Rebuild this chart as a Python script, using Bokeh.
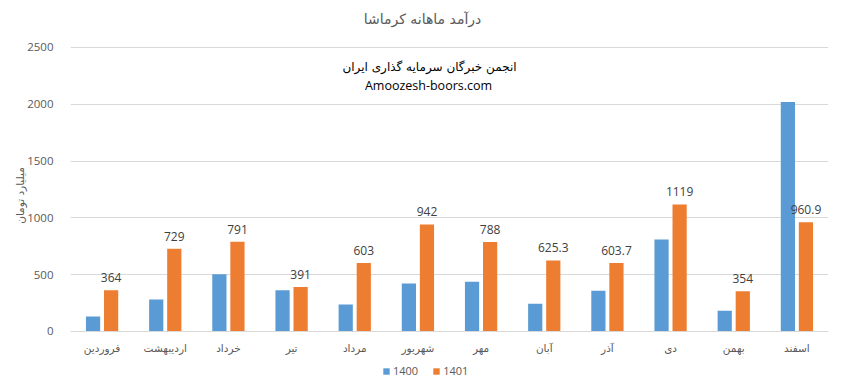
import math
from bokeh.plotting import figure
from bokeh.models import FactorRange, Label, Legend, LegendItem, ColumnDataSource
from bokeh.transform import dodge
from bokeh.core.properties import value
from bokeh.embed import file_html
from bokeh.resources import INLINE

months = ["فروردین", "اردیبهشت", "خرداد", "تیر", "مرداد", "شهریور",
          "مهر", "آبان", "آذر", "دی", "بهمن", "اسفند"]
sales_1400 = [132, 282, 503, 362, 238, 423, 438, 244, 359, 809, 183, 2020]
sales_1401 = [364, 729, 791, 391, 603, 942, 788, 625.3, 603.7, 1119, 354, 960.9]
labels_1401 = ["364", "729", "791", "391", "603", "942", "788", "625.3", "603.7", "1119", "354", "960.9"]
y_ticks = [0, 500, 1000, 1500, 2000, 2500]

src = ColumnDataSource(dict(m=months, a=sales_1400, b=sales_1401, lb=labels_1401))

W, H = 840, 390
p = figure(x_range=FactorRange(*months), y_range=(-484.2, 2878.5), width=W, height=H,
           output_backend="svg", toolbar_location=None,
           min_border_left=70, min_border_right=12, min_border_top=4, min_border_bottom=4)
p.outline_line_color = None
p.background_fill_color = "white"

blue = "#5B9BD5"
orange = "#ED7D31"
r1 = p.vbar(x=dodge("m", -0.143, range=p.x_range), top="a", width=0.225, source=src,
            fill_color=blue, line_color=None)
r2 = p.vbar(x=dodge("m", 0.143, range=p.x_range), top="b", width=0.225, source=src,
            fill_color=orange, line_color=None)
p.text(x=dodge("m", 0.143, range=p.x_range), y="b", text="lb", source=src,
       text_align="center", text_baseline="bottom", y_offset=-8,
       text_font=value("Open Sans"), text_font_size="12px", text_color="#404040")

p.xgrid.grid_line_color = None
p.ygrid.grid_line_color = "#d9d9d9"
p.yaxis.ticker = y_ticks
p.yaxis.axis_line_color = None
p.yaxis.major_tick_line_color = None
p.yaxis.minor_tick_line_color = None
p.yaxis.major_label_text_font = "Open Sans"
p.yaxis.major_label_text_font_size = "11.5px"
p.yaxis.major_label_text_color = "#595959"
p.yaxis.major_label_standoff = 11
p.yaxis.axis_label = "میلیارد تومان"
p.yaxis.axis_label_text_font = "DejaVu Sans"
p.yaxis.axis_label_text_font_size = "10.5px"
p.yaxis.axis_label_text_font_style = "normal"
p.yaxis.axis_label_text_color = "#595959"
p.yaxis.axis_label_standoff = -2
p.xaxis.fixed_location = 0
p.xaxis.axis_line_color = "#d9d9d9"
p.xaxis.major_tick_line_color = None
p.xaxis.minor_tick_line_color = None
p.xaxis.major_label_text_font = "DejaVu Sans"
p.xaxis.major_label_text_font_size = "10.5px"
p.xaxis.major_label_text_color = "#595959"
p.xaxis.major_label_standoff = 5
p.x_range.range_padding = 0.0
p.x_range.group_padding = 0.0

legend = Legend(items=[LegendItem(label="1400", renderers=[r1]),
                       LegendItem(label="1401", renderers=[r2])],
                orientation="horizontal", location=(312, 8),
                label_text_font="Open Sans", label_text_font_size="11px",
                label_text_color="#595959", glyph_width=8, glyph_height=8,
                label_standoff=3, spacing=14, padding=0, margin=0,
                border_line_color=None, background_fill_alpha=0)
p.add_layout(legend, "center")

p.add_layout(Label(x=352, y=368, x_units="screen", y_units="screen",
                   text="درآمد ماهانه کرماشا", text_align="center", text_baseline="middle",
                   text_font="DejaVu Sans", text_font_size="14px", text_color="#595959"))
p.add_layout(Label(x=359, y=320, x_units="screen", y_units="screen",
                   text="انجمن خبرگان سرمایه گذاری ایران", text_align="center", text_baseline="middle",
                   text_font="DejaVu Sans", text_font_size="12px", text_color="#000000"))
p.add_layout(Label(x=358, y=301, x_units="screen", y_units="screen",
                   text="Amoozesh-boors.com", text_align="center", text_baseline="middle",
                   text_font="Open Sans", text_font_size="12.5px", text_color="#000000"))

open("out.html", "w").write(file_html(p, INLINE))
